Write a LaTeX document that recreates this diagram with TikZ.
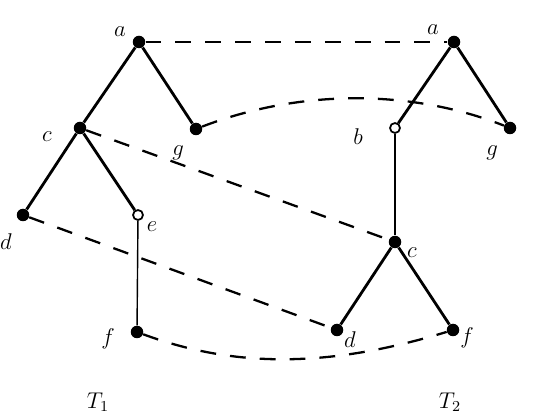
\documentclass[tikz,border=0pt]{standalone}
\usepackage{amsmath}
\usepackage{tikz}

\begin{document}
\begin{tikzpicture}[
    vtx/.style={circle, fill=black, inner sep=0pt, minimum size=2.5mm},
    hollow/.style={circle, draw=black, fill=white, line width=1pt, inner sep=0pt, minimum size=2mm},
    edge/.style={line width=1.6pt},
    thinedge/.style={line width=0.8pt},
    match/.style={line width=1.3pt, dash pattern=on 9pt off 8pt},
    lbl/.style={inner sep=1pt, font=\large, scale=1.08, transform shape}]
    \useasboundingbox (0,0) rectangle (10.7,8.28);
    % --- tree T1 ---
    \node[vtx] (a1) at (2.78,7.44) {};
    \node[vtx] (c1) at (1.60,5.72) {};
    \node[vtx] (g1) at (3.92,5.70) {};
    \node[vtx] (d1) at (0.46,3.98) {};
    \node[hollow] (e1) at (2.76,3.98) {};
    \node[vtx] (f1) at (2.74,1.64) {};
    \draw[edge] (a1) -- (c1);
    \draw[edge] (a1) -- (g1);
    \draw[edge] (c1) -- (d1);
    \draw[edge] (c1) -- (e1);
    \draw[thinedge] (e1) -- (f1);
    \node[lbl] (la1) at (2.40,7.64) {$a$};
    \node[lbl] (lc1) at (0.94,5.54) {$c$};
    \node[lbl] (lg1) at (3.56,5.22) {$g$};
    \node[lbl] (ld1) at (0.12,3.44) {$d$};
    \node[lbl] (le1) at (3.04,3.74) {$e$};
    \node[lbl] (lf1) at (2.16,1.50) {$f$};
    \node[lbl] (t1) at (1.96,0.24) {$T_1$};
    % --- tree T2 ---
    \node[vtx] (a2) at (9.08,7.44) {};
    \node[hollow] (b2) at (7.90,5.72) {};
    \node[vtx] (g2) at (10.20,5.72) {};
    \node[vtx] (c2) at (7.90,3.44) {};
    \node[vtx] (d2) at (6.74,1.68) {};
    \node[vtx] (f2) at (9.06,1.68) {};
    \draw[edge] (a2) -- (b2);
    \draw[edge] (a2) -- (g2);
    \draw[thinedge] (b2) -- (c2);
    \draw[edge] (c2) -- (d2);
    \draw[edge] (c2) -- (f2);
    \node[lbl] (la2) at (8.66,7.68) {$a$};
    \node[lbl] (lb2) at (7.16,5.54) {$b$};
    \node[lbl] (lg2) at (9.84,5.22) {$g$};
    \node[lbl] (lc2) at (8.24,3.22) {$c$};
    \node[lbl] (ld2) at (7.00,1.48) {$d$};
    \node[lbl] (lf2) at (9.34,1.52) {$f$};
    \node[lbl] (t2) at (9.00,0.24) {$T_2$};
    % --- matching ---
    \draw[match] (a1) -- (a2);
    \draw[match] (g1) .. controls (6.00,6.50) and (8.22,6.50) .. (g2);
    \draw[match] (c1) -- (c2);
    \draw[match] (d1) -- (d2);
    \draw[match] (f1) .. controls (4.70,0.92) and (6.56,0.92) .. (f2);
\end{tikzpicture}
\end{document}
